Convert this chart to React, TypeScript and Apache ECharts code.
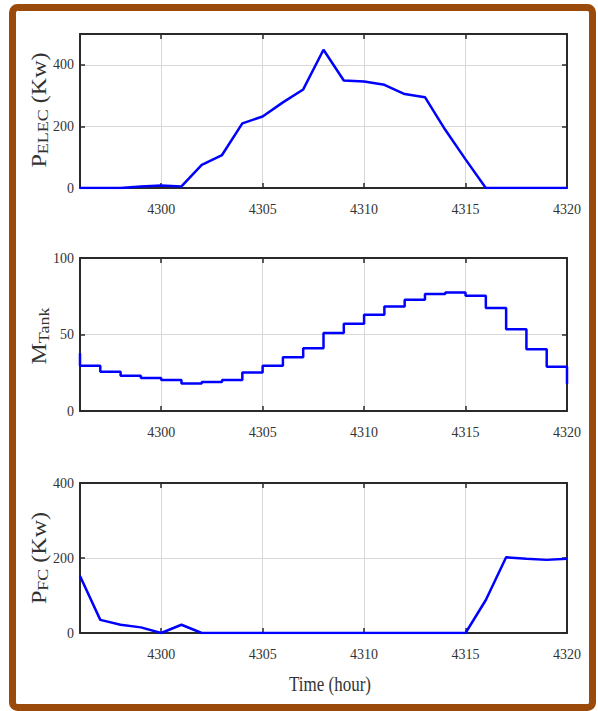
import React, { useEffect, useRef } from 'react';
import * as echarts from 'echarts';

// ---- data ----
const hours = [4296, 4297, 4298, 4299, 4300, 4301, 4302, 4303, 4304, 4305, 4306, 4307, 4308, 4309, 4310, 4311, 4312, 4313, 4314, 4315, 4316, 4317, 4318, 4319, 4320];
const pElec = [0, 0, 0, 5, 8, 5, 75, 107, 210, 232, 278, 320, 449, 349, 346, 335, 305, 295, 189, 93, 0, 0, 0, 0, 0];
const mTankStart = 37.8;
const mTank = [29.5, 25.7, 23.1, 21.6, 20.3, 17.9, 19.0, 20.3, 25.1, 29.5, 35.2, 41.0, 50.9, 57.0, 62.9, 68.3, 72.7, 76.4, 77.5, 75.3, 67.3, 53.5, 40.4, 29.0, 17.7];
const pFc = [152, 35, 22, 15, 0, 22, 0, 0, 0, 0, 0, 0, 0, 0, 0, 0, 0, 0, 0, 0, 88, 202, 198, 195, 198];

const xTicks = [4300, 4305, 4310, 4315, 4320];
const yTicks1 = [0, 200, 400];
const yTicks2 = [0, 50, 100];
const yTicks3 = [0, 200, 400];
const yRanges = [
  { min: 0, max: 500 },
  { min: 0, max: 100 },
  { min: 0, max: 400 },
];
const yTickSets = [yTicks1, yTicks2, yTicks3];
const xTitle = 'Time (hour)';
const yTitle1 = [{ t: 'P' }, { t: 'ELEC', sub: true }, { t: ' (Kw)' }];
const yTitle2 = [{ t: 'M' }, { t: 'Tank', sub: true }];
const yTitle3 = [{ t: 'P' }, { t: 'FC', sub: true }, { t: ' (Kw)' }];

const FONT = 'Liberation Serif';
const AXIS_COLOR = '#2a2a2a';
const GRID_COLOR = '#d8d8d8';
const LINE_COLOR = '#0000ff';
const MAIN_SIZE = 20;
const SUB_SIZE = 15;

const grids = [
  { left: 80, right: 31, top: 34, height: 154 },
  { left: 80, right: 31, top: 258, height: 153 },
  { left: 80, right: 31, top: 483, height: 150 },
];

let measureCtx: CanvasRenderingContext2D | null = null;
function textWidth(t: string, size: number) {
  if (!measureCtx) measureCtx = document.createElement('canvas').getContext('2d');
  if (!measureCtx) return t.length * size * 0.5;
  measureCtx.font = `${size}px "${FONT}"`;
  return measureCtx.measureText(t).width;
}

function yTitle(baselineX: number, cy: number, parts: { t: string; sub?: boolean }[]) {
  const widths = parts.map((p) => textWidth(p.t, p.sub ? SUB_SIZE : MAIN_SIZE));
  const total = widths.reduce((a, b) => a + b, 0);
  let pos = -total / 2;
  const children = parts.map((p, i) => {
    const el = {
      type: 'text',
      x: pos,
      y: p.sub ? 4.2 : 0,
      style: {
        text: p.t,
        fontSize: p.sub ? SUB_SIZE : MAIN_SIZE,
        fontFamily: FONT,
        fill: '#333',
        align: 'left',
        verticalAlign: 'middle',
      },
    };
    pos += widths[i];
    return el;
  });
  return { type: 'group', x: baselineX - 0.34 * MAIN_SIZE, y: cy, rotation: Math.PI / 2, scaleX: 1.2, children };
}

const labelFmt = (v: number) => String(v);

export default function App() {
  const ref = useRef<HTMLDivElement>(null);
  useEffect(() => {
    if (!ref.current) return;
    const chart = echarts.init(ref.current, null, { renderer: 'svg' });

    const labelStyle = { color: '#333', fontFamily: FONT, fontSize: 14, formatter: labelFmt };
    const xAxes: any[] = [];
    const yAxes: any[] = [];
    for (let i = 0; i < 3; i++) {
      xAxes.push({
        type: 'value', gridIndex: i, min: 4296, max: 4320, position: 'bottom',
        axisLine: { show: true, onZero: false, lineStyle: { color: AXIS_COLOR, width: 2 } },
        axisTick: { show: true, inside: true, length: 5, customValues: xTicks, lineStyle: { color: AXIS_COLOR, width: 1.5 } },
        axisLabel: { ...labelStyle, customValues: xTicks, margin: 14 },
        splitLine: { show: true, lineStyle: { color: GRID_COLOR, width: 1 } },
      });
    }
    for (let i = 0; i < 3; i++) {
      xAxes.push({
        type: 'value', gridIndex: i, min: 4296, max: 4320, position: 'top',
        axisLine: { show: true, onZero: false, lineStyle: { color: AXIS_COLOR, width: 2 } },
        axisTick: { show: true, inside: true, length: 5, customValues: xTicks, lineStyle: { color: AXIS_COLOR, width: 1.5 } },
        axisLabel: { show: false },
        splitLine: { show: false },
      });
    }
    for (let i = 0; i < 3; i++) {
      yAxes.push({
        type: 'value', gridIndex: i, min: yRanges[i].min, max: yRanges[i].max, position: 'left',
        axisLine: { show: true, lineStyle: { color: AXIS_COLOR, width: 2 } },
        axisTick: { show: true, inside: true, length: 5, customValues: yTickSets[i], lineStyle: { color: AXIS_COLOR, width: 1.5 } },
        axisLabel: { ...labelStyle, customValues: yTickSets[i], margin: 6 },
        splitLine: { show: true, lineStyle: { color: GRID_COLOR, width: 1 } },
      });
    }
    for (let i = 0; i < 3; i++) {
      yAxes.push({
        type: 'value', gridIndex: i, min: yRanges[i].min, max: yRanges[i].max, position: 'right',
        axisLine: { show: true, lineStyle: { color: AXIS_COLOR, width: 2 } },
        axisTick: { show: true, inside: true, length: 5, customValues: yTickSets[i], lineStyle: { color: AXIS_COLOR, width: 1.5 } },
        axisLabel: { show: false },
        splitLine: { show: false },
      });
    }

    const tankData: number[][] = [[hours[0], mTankStart]].concat(hours.map((h, i) => [h, mTank[i]]));

    const lineStyle = { color: LINE_COLOR, width: 2.5 };
    chart.setOption({
      animation: false,
      backgroundColor: '#ffffff',
      textStyle: { fontFamily: FONT },
      grid: grids,
      xAxis: xAxes,
      yAxis: yAxes,
      series: [
        { type: 'line', xAxisIndex: 0, yAxisIndex: 0, data: hours.map((h, i) => [h, pElec[i]]), showSymbol: false, lineStyle, itemStyle: { color: LINE_COLOR } },
        { type: 'line', xAxisIndex: 1, yAxisIndex: 1, step: 'end', data: tankData, showSymbol: false, lineStyle, itemStyle: { color: LINE_COLOR } },
        { type: 'line', xAxisIndex: 2, yAxisIndex: 2, data: hours.map((h, i) => [h, pFc[i]]), showSymbol: false, lineStyle, itemStyle: { color: LINE_COLOR } },
      ],
      graphic: [
        { type: 'rect', shape: { x: 12.5, y: 7.5, width: 580, height: 700, r: 5 }, style: { fill: 'none', stroke: '#9a4a0a', lineWidth: 7 }, z: 100 },
        yTitle(46, 110, yTitle1),
        yTitle(46.5, 336, yTitle2),
        yTitle(46, 558, yTitle3),
        { type: 'text', x: 330, y: 684, scaleY: 1.25, style: { text: xTitle, align: 'center', verticalAlign: 'middle', fontSize: 17, fontFamily: FONT, fill: '#333' } },
      ],
    });
    return () => chart.dispose();
  }, []);
  return <div ref={ref} style={{ position: 'absolute', left: 0, top: 0, width: 598, height: 711 }} />;
}
